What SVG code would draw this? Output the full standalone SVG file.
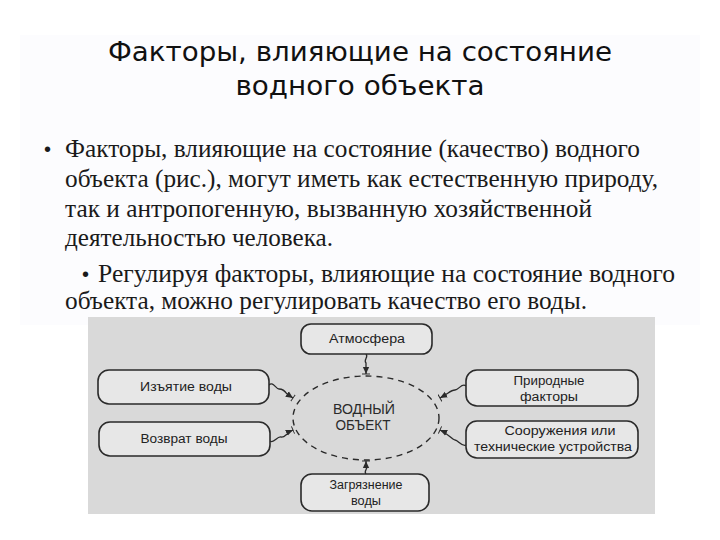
<svg xmlns="http://www.w3.org/2000/svg" width="720" height="540" viewBox="0 0 720 540">
<style>
.title{font-family:"DejaVu Sans","Noto Sans",sans-serif;font-size:26px;fill:#111;text-anchor:middle}
.body{font-family:"Liberation Serif","DejaVu Serif",serif;font-size:26px;fill:#1a1a1a}
.bullet{font-family:"Liberation Sans",sans-serif;font-size:20px;fill:#1a1a1a}
.box{fill:#e7e7e7;stroke:#2a2a2a;stroke-width:1.6}
.lbl{font-family:"Liberation Sans","Arial",sans-serif;font-size:12.5px;fill:#222;text-anchor:middle}
.center{font-family:"Liberation Sans","Arial",sans-serif;font-size:14px;fill:#2a2a2a;text-anchor:middle}
.conn{fill:none;stroke:#2a2a2a;stroke-width:1.3;marker-end:url(#arr)}
</style>
<defs>
<marker id="arr" viewBox="0 0 10 10" refX="9" refY="5" markerWidth="8" markerHeight="8" markerUnits="userSpaceOnUse" orient="auto">
<path d="M0,1 L9,5 L0,9 z" fill="#2a2a2a"/>
<path d="M9,0 L9,10" stroke="#2a2a2a" stroke-width="1.2"/>
</marker>
</defs>
<rect width="720" height="540" fill="#ffffff"/>
<rect x="20" y="35" width="680" height="290" fill="#fcfcfe"/>
<g id="title">
<text class="title" x="360" y="61" textLength="504" lengthAdjust="spacingAndGlyphs">Факторы, влияющие на состояние</text>
<text class="title" x="360" y="95" textLength="249" lengthAdjust="spacingAndGlyphs">водного объекта</text>
</g>
<g id="body">
<text class="bullet" x="44" y="156">•</text>
<text class="body" x="65" y="157" textLength="575" lengthAdjust="spacingAndGlyphs">Факторы, влияющие на состояние (качество) водного</text>
<text class="body" x="65" y="187" textLength="593" lengthAdjust="spacingAndGlyphs">объекта (рис.), могут иметь как естественную природу,</text>
<text class="body" x="65" y="217" textLength="527" lengthAdjust="spacingAndGlyphs">так и антропогенную, вызванную хозяйственной</text>
<text class="body" x="65" y="246" textLength="268" lengthAdjust="spacingAndGlyphs">деятельностью человека.</text>
<text class="bullet" x="82" y="281">•</text>
<text class="body" x="98" y="282" textLength="577" lengthAdjust="spacingAndGlyphs">Регулируя факторы, влияющие на состояние водного</text>
<text class="body" x="65" y="309" textLength="522" lengthAdjust="spacingAndGlyphs">объекта, можно регулировать качество его воды.</text>
</g>
<rect x="88" y="317" width="567" height="197" fill="#d9d9d9"/>
<g id="connectors">
<path class="conn" d="M269,385 C273,381 276,389 279,389 S285,391 287,394 L293,398"/>
<path class="conn" d="M270,441 C274,444 277,436 281,437 S286,433 293,430"/>
<path class="conn" d="M466,386 C462,382 459,390 455,390 S449,393 440,398"/>
<path class="conn" d="M466,445 C462,447 458,440 455,440 S449,434 440,430"/>
<path class="conn" d="M366,354 c3,3 -3,6 0,9 L366,374"/>
<path class="conn" d="M366,474 c-3,-3 3,-6 0,-8 L366,461"/>
</g>
<g id="vodny-obekt">
<ellipse cx="366" cy="418" rx="73" ry="42" fill="none" stroke="#2a2a2a" stroke-width="1.4" stroke-dasharray="6 5"/>
<text class="center" x="364" y="414" textLength="62" lengthAdjust="spacingAndGlyphs">ВОДНЫЙ</text>
<text class="center" x="363" y="430" textLength="55" lengthAdjust="spacingAndGlyphs">ОБЪЕКТ</text>
</g>
<g id="atmosfera">
<rect class="box" x="301" y="324" width="131" height="30" rx="10"/>
<text class="lbl" x="367" y="343" textLength="76" lengthAdjust="spacingAndGlyphs">Атмосфера</text>
</g>
<g id="izyatie">
<rect class="box" x="98" y="370" width="171" height="34" rx="11"/>
<text class="lbl" x="186" y="391" textLength="92" lengthAdjust="spacingAndGlyphs">Изъятие воды</text>
</g>
<g id="vozvrat">
<rect class="box" x="99" y="422" width="171" height="34" rx="11"/>
<text class="lbl" x="184" y="443" textLength="87" lengthAdjust="spacingAndGlyphs">Возврат воды</text>
</g>
<g id="prirodnye">
<rect class="box" x="466" y="370" width="172" height="36" rx="11"/>
<text class="lbl" x="549" y="385" textLength="71" lengthAdjust="spacingAndGlyphs">Природные</text>
<text class="lbl" x="549" y="401" textLength="58" lengthAdjust="spacingAndGlyphs">факторы</text>
</g>
<g id="sooruzheniya">
<rect class="box" x="466" y="421" width="172" height="37" rx="11"/>
<text class="lbl" x="560" y="435" textLength="111" lengthAdjust="spacingAndGlyphs">Сооружения или</text>
<text class="lbl" x="553" y="451" textLength="158" lengthAdjust="spacingAndGlyphs">технические устройства</text>
</g>
<g id="zagryaznenie">
<rect class="box" x="301" y="474" width="128" height="37" rx="11"/>
<text class="lbl" x="366" y="489" textLength="73" lengthAdjust="spacingAndGlyphs">Загрязнение</text>
<text class="lbl" x="366" y="505" textLength="30" lengthAdjust="spacingAndGlyphs">воды</text>
</g>
</svg>
